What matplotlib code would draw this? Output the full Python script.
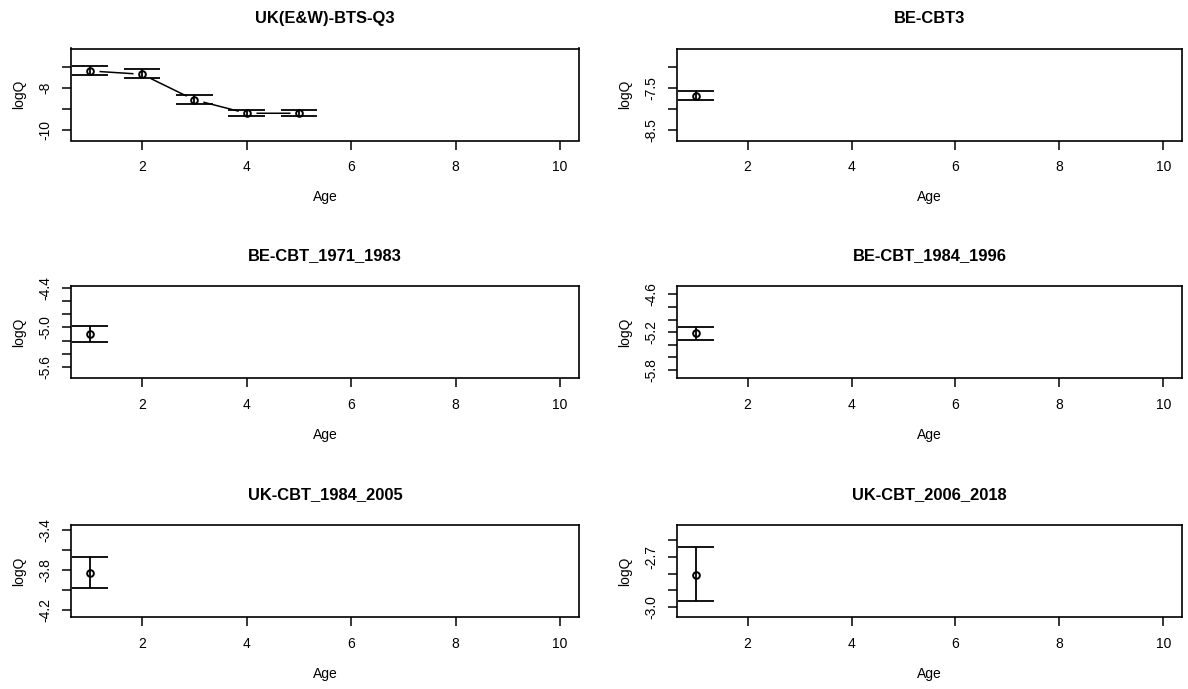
import numpy as np
import matplotlib
matplotlib.use("Agg")
import matplotlib.pyplot as plt

plt.rcParams['font.family'] = ['Liberation Sans', 'DejaVu Sans']

# fleets, one panel each
titles = ["UK(E&W)-BTS-Q3", "BE-CBT3", "BE-CBT_1971_1983",
          "BE-CBT_1984_1996", "UK-CBT_1984_2005", "UK-CBT_2006_2018"]

# catchability estimates (logQ) and confidence bounds by age
ages_uk_bts = [1, 2, 3, 4, 5]
est_uk_bts = [-7.19, -7.35, -8.57, -9.21, -9.21]
lo_uk_bts = [-7.37, -7.54, -8.77, -9.36, -9.35]
hi_uk_bts = [-6.97, -7.11, -8.32, -9.04, -9.04]

ages_be_cbt3 = [1]
est_be_cbt3 = [-7.68]
lo_be_cbt3 = [-7.78]
hi_be_cbt3 = [-7.565]

ages_be_7183 = [1]
est_be_7183 = [-5.10]
lo_be_7183 = [-5.22]
hi_be_7183 = [-4.976]

ages_be_8496 = [1]
est_be_8496 = [-5.216]
lo_be_8496 = [-5.326]
hi_be_8496 = [-5.112]

ages_uk_8405 = [1]
est_uk_8405 = [-3.83]
lo_uk_8405 = [-3.98]
hi_uk_8405 = [-3.67]

ages_uk_0618 = [1]
est_uk_0618 = [-2.806]
lo_uk_0618 = [-2.965]
hi_uk_0618 = [-2.64]

# axis settings
ylims = [(-10.51, -6.12), (-8.74, -6.56), (-5.76, -4.376),
         (-5.926, -4.469), (-4.27, -3.35), (-3.058, -2.51)]
yticks = [[-10, -9, -8, -7],
          [-8.5, -8.0, -7.5, -7.0],
          [-5.6, -5.4, -5.2, -5.0, -4.8, -4.6, -4.4],
          [-5.8, -5.6, -5.4, -5.2, -5.0, -4.8, -4.6],
          [-4.2, -4.0, -3.8, -3.6, -3.4],
          [-3.0, -2.9, -2.8, -2.7, -2.6]]
ylabels = [["-10", "", "-8", ""],
           ["-8.5", "", "-7.5", ""],
           ["-5.6", "", "", "-5.0", "", "", "-4.4"],
           ["-5.8", "", "", "-5.2", "", "", "-4.6"],
           ["-4.2", "", "-3.8", "", "-3.4"],
           ["-3.0", "", "", "-2.7", ""]]
xticks = [2, 4, 6, 8, 10]

series = [(ages_uk_bts, est_uk_bts, lo_uk_bts, hi_uk_bts),
          (ages_be_cbt3, est_be_cbt3, lo_be_cbt3, hi_be_cbt3),
          (ages_be_7183, est_be_7183, lo_be_7183, hi_be_7183),
          (ages_be_8496, est_be_8496, lo_be_8496, hi_be_8496),
          (ages_uk_8405, est_uk_8405, lo_uk_8405, hi_uk_8405),
          (ages_uk_0618, est_uk_0618, lo_uk_0618, hi_uk_0618)]

W, H = 1188, 689
fig = plt.figure(figsize=(W / 100, H / 100), dpi=100)

col_left = [71, 677]
col_width = [508, 505]
row_top = [48.5, 286, 525]
row_h = 92

cap = 0.35
for k in range(6):
    r, c = k // 2, k % 2
    ax = fig.add_axes([col_left[c] / W, (H - row_top[r] - row_h) / H,
                       col_width[c] / W, row_h / H])
    a, e, lo, hi = [np.array(v, dtype=float) for v in series[k]]
    if len(a) > 1:
        # R type="b": line with gaps round the points
        ax.plot(a, e, color='black', lw=1.1, zorder=1)
        ax.plot(a, e, 'o', ms=13, mfc='white', mec='none', zorder=2)
    ax.vlines(a, lo, hi, color='black', lw=1.3, zorder=3)
    ax.hlines(lo, a - cap, a + cap, color='black', lw=1.3, zorder=3)
    ax.hlines(hi, a - cap, a + cap, color='black', lw=1.3, zorder=3)
    ax.plot(a, e, 'o', ms=4.8, mfc='none', mec='black', mew=1.4, zorder=4)

    ax.set_xlim(0.64, 10.36)
    ax.set_ylim(*ylims[k])
    ax.set_xticks(xticks)
    ax.set_xticklabels([str(t) for t in xticks])
    ax.set_yticks(yticks[k])
    ax.set_yticklabels(ylabels[k])
    ax.tick_params(axis='both', direction='out', length=6.3, width=1.1,
                   labelsize=10, colors='black')
    ax.tick_params(axis='x', pad=8)
    ax.tick_params(axis='y', pad=7, labelrotation=90)
    for lab in ax.get_yticklabels():
        lab.set_va('center')
    for s in ax.spines.values():
        s.set_linewidth(1.2)

    ax.set_xlabel("Age", fontsize=10)
    ax.xaxis.set_label_coords(0.5, -50 / row_h)
    ax.set_ylabel("logQ", fontsize=10)
    ax.yaxis.set_label_coords(-45 / col_width[c], 0.5)
    ax.set_title(titles[k], fontsize=11.9, fontweight='bold',
                 y=1 + 30 / row_h, va='center', pad=0)

fig.savefig("out.png", dpi=100)
